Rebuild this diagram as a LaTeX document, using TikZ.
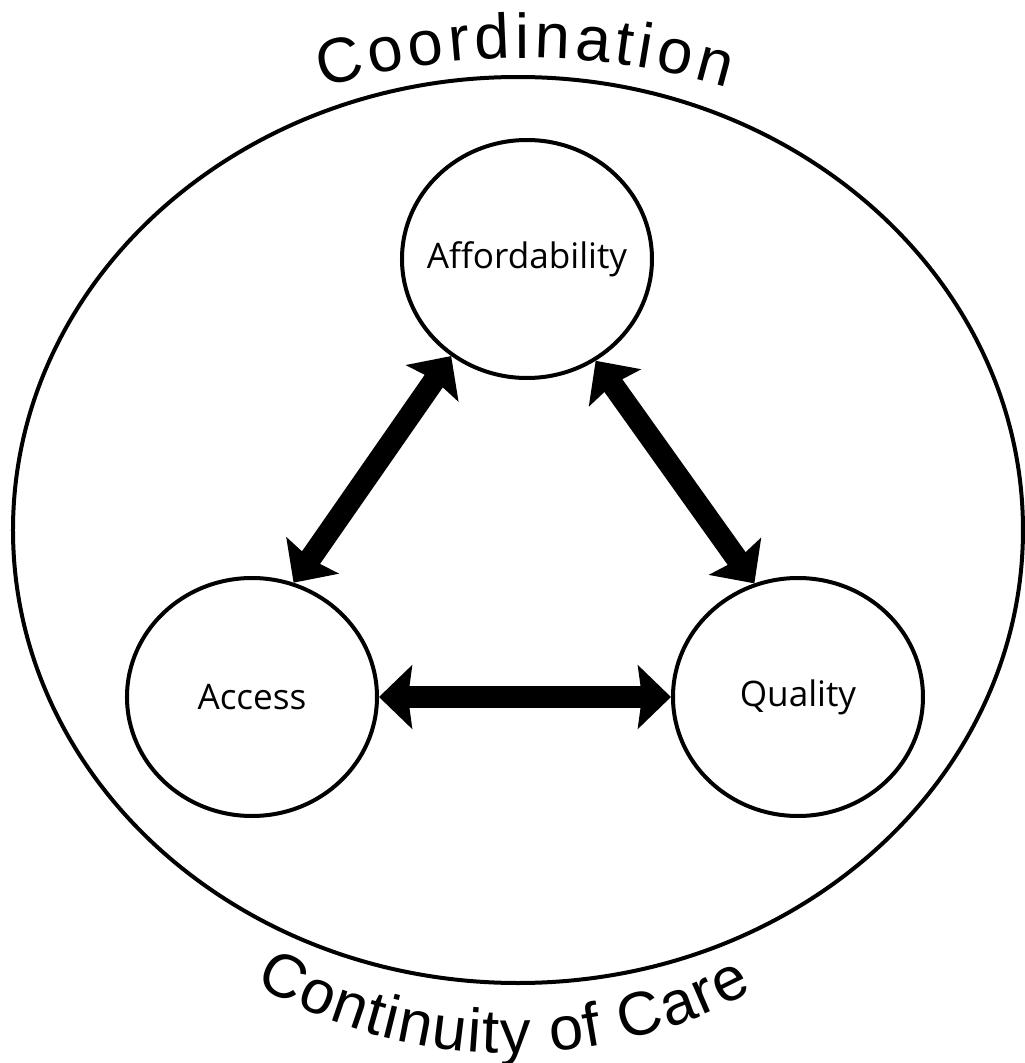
\documentclass[tikz,border=0pt]{standalone}
\usepackage{fontspec}
\setmainfont{Open Sans}
\newfontfamily\arcfont{Liberation Sans}
\usetikzlibrary{arrows.meta,shapes.geometric,decorations.text}

\tikzset{
  ring/.style={draw=black, line width=0.08cm, ellipse, inner sep=0pt,
    minimum width=5cm, minimum height=4.76cm},
  bigarrow/.style={line width=0.44cm,
    {Stealth[length=0.66cm,width=1.26cm,inset=0.08cm]}-{Stealth[length=0.66cm,width=1.26cm,inset=0.08cm]}},
  arctext/.style={decorate, decoration={text along path, text align=fit to path, text={#1}}},
}

\begin{document}
\begin{tikzpicture}[font=\fontsize{20}{24}\selectfont]

       \pgfmathsetmacro{\outerRx}{10.1}
       \pgfmathsetmacro{\outerRy}{9.06}

       \useasboundingbox (-10.36,-10.66) rectangle (10.12,10.6);

       %% 外圈大橢圓, 圓心放在原點
       \draw [line width=0.08cm] (0,0) ellipse [x radius=\outerRx, y radius=\outerRy];

       \node [ring, label=center:Affordability] (afford)  at (0.18,5.42)  {};
       \node [ring, label=center:Access]        (access)  at (-5.32,-3.34) {};
       \node [ring, label=center:Quality]       (quality) at (5.6,-3.34)  {};

       \draw [bigarrow] (afford.232) -- (access.70);
       \draw [bigarrow] (afford.304) -- (quality.111);
       \draw [bigarrow] (access.east) -- (quality.west);

       %% 沿著圓弧排的上下兩段字
       \path [arctext={|\arcfont\fontsize{36}{42}\selectfont|Coordination}]
       (0.14,-4.8) ++(106.5:14.24) arc [start angle=106.5, end angle=73.5, radius=14.24];
       \path [arctext={|\arcfont\fontsize{35}{41}\selectfont|Continuity of Care}]
       (-0.16,-0.3) ++(239.85:10.16) arc [start angle=239.85, end angle=298.5, radius=10.16];
    \end{tikzpicture}
\end{document}
